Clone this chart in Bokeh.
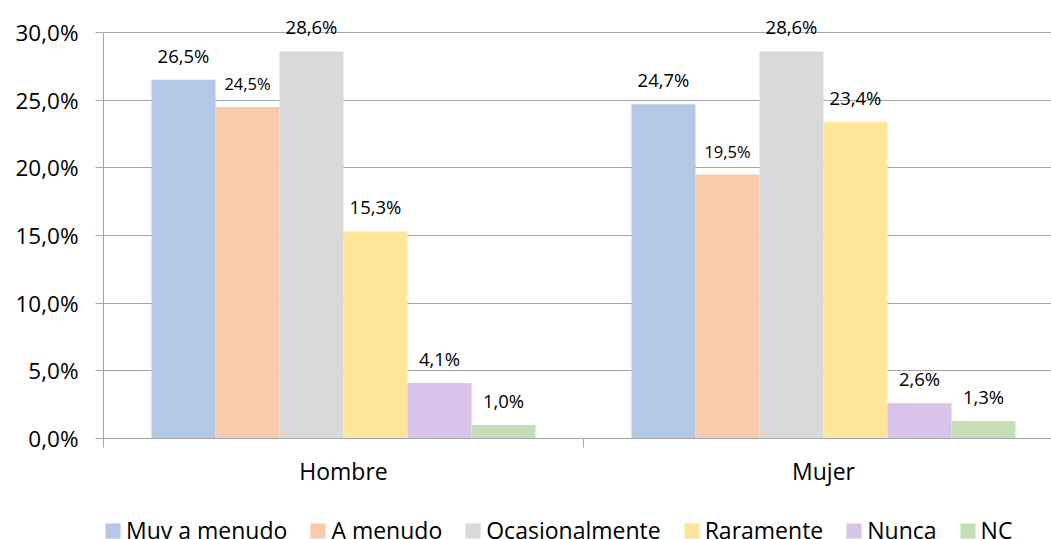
from bokeh.plotting import figure
from bokeh.models import ColumnDataSource, FixedTicker, Legend, LegendItem, Range1d, LabelSet
from bokeh.layouts import column
from bokeh.core.properties import value
from bokeh.embed import file_html
from bokeh.resources import INLINE

groups = ["Hombre", "Mujer"]
series = ["Muy a menudo", "A menudo", "Ocasionalmente", "Raramente", "Nunca", "NC"]
hombre = [26.5, 24.5, 28.6, 15.3, 4.1, 1.0]
mujer = [24.7, 19.5, 28.6, 23.4, 2.6, 1.3]
colors = ["#B4C7E7", "#F8CBAD", "#D9D9D9", "#FFE699", "#D9C3E9", "#C5E0B4"]
y_ticks = [0, 5, 10, 15, 20, 25, 30]
y_labels = ["0,0%", "5,0%", "10,0%", "15,0%", "20,0%", "25,0%", "30,0%"]

FONT = "Open Sans"
PX_PER_UNIT = 406 / 30
FRAME_H = 426

p = figure(frame_width=948, frame_height=FRAME_H, output_backend="svg", toolbar_location=None,
           x_range=Range1d(0, 1.975), y_range=Range1d(0, FRAME_H / PX_PER_UNIT),
           min_border_left=103, min_border_right=0, min_border_top=12, min_border_bottom=75)
p.outline_line_color = None
p.background_fill_color = "white"
p.border_fill_color = "white"

# legend strip figure (series sources are shared; its y range keeps bars out of view)
p2 = figure(width=1051, height=26, output_backend="svg", toolbar_location=None,
            x_range=Range1d(0, 2), y_range=Range1d(100, 101),
            x_axis_location=None, y_axis_location=None,
            min_border_left=0, min_border_right=0, min_border_top=0, min_border_bottom=0)
p2.outline_line_color = None
p2.xgrid.grid_line_color = None
p2.ygrid.grid_line_color = None
p2.background_fill_color = "white"
p2.border_fill_color = "white"

bw = 1 / 7.5
xc = [i + 0.5 for i in range(len(groups))]
items = []
for i, name in enumerate(series):
    vals = [hombre[i], mujer[i]]
    labels = [f"{v:.1f}".replace(".", ",") + "%" for v in vals]
    off = (i - 2.5) * bw
    xs = [x + off for x in xc]
    src = ColumnDataSource(dict(x=xs, v=vals, lab=labels))
    p.vbar(x="x", top="v", width=bw, source=src, fill_color=colors[i], line_color=None)
    fs = "16.5px" if name == "A menudo" else "18.5px"
    ls = LabelSet(x="x", y="v", text="lab", source=src,
                  text_font=value(FONT), text_font_size=value(fs), text_align="center",
                  text_baseline="alphabetic", y_offset=17, text_color="#000000")
    p.add_layout(ls)
    r2 = p2.vbar(x="x", top="v", width=bw, source=src, fill_color=colors[i], line_color=None)
    items.append(LegendItem(label=name, renderers=[r2]))

# y axis
p.yaxis.ticker = FixedTicker(ticks=y_ticks)
p.yaxis.bounds = (0, 30)
p.yaxis.major_label_overrides = {t: l for t, l in zip(y_ticks, y_labels)}
p.yaxis.major_label_text_font = FONT
p.yaxis.major_label_text_font_size = "22.5px"
p.yaxis.major_label_text_color = "#000000"
p.yaxis.axis_line_color = "#A6A6A6"
p.yaxis.major_tick_line_color = "#A6A6A6"
p.yaxis.major_tick_out = 8
p.yaxis.major_tick_in = 0
p.yaxis.minor_tick_line_color = None
p.yaxis.major_label_standoff = 17

# x axis
p.xaxis.ticker = FixedTicker(ticks=xc, minor_ticks=[0, 1, 2])
p.xaxis.major_label_overrides = {x: g for x, g in zip(xc, groups)}
p.xaxis.major_label_text_font = FONT
p.xaxis.major_label_text_font_size = "23px"
p.xaxis.major_label_text_color = "#000000"
p.xaxis.axis_line_color = "#A6A6A6"
p.xaxis.major_tick_line_color = None
p.xaxis.major_tick_out = 0
p.xaxis.major_tick_in = 0
p.xaxis.minor_tick_line_color = "#A6A6A6"
p.xaxis.minor_tick_out = 9
p.xaxis.minor_tick_in = 0
p.xaxis.major_label_standoff = 7

p.xgrid.grid_line_color = None
p.ygrid.ticker = FixedTicker(ticks=y_ticks)
p.ygrid.grid_line_color = "#A6A6A6"
p.ygrid.grid_line_width = 1

legend = Legend(items=items, orientation="horizontal", location=(0, -7),
                label_text_font=FONT, label_text_font_size="23px",
                label_text_color="#000000", glyph_width=19, glyph_height=19,
                label_standoff=4, spacing=21, padding=0, margin=0,
                border_line_color=None, background_fill_alpha=0)
p2.add_layout(legend, "center")

layout = column(p, p2, spacing=0)
open("out.html", "w").write(file_html(layout, INLINE))
